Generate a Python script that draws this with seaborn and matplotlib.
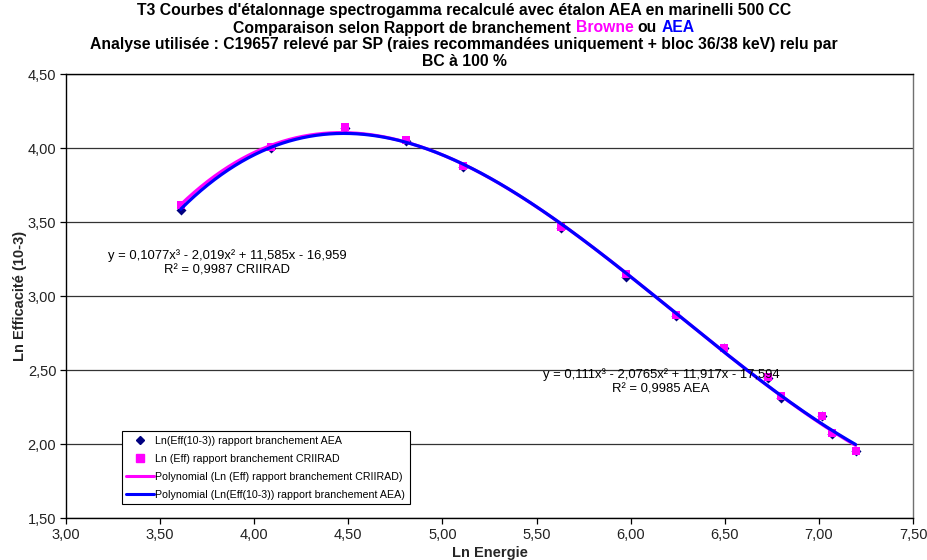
import numpy as np
import pandas as pd
import matplotlib
matplotlib.use("Agg")
import matplotlib.pyplot as plt
from matplotlib.ticker import FuncFormatter
from matplotlib.lines import Line2D
import seaborn as sns

# ---- data -------------------------------------------------------------
ln_energie = [3.61, 4.09, 4.48, 4.806, 5.11, 5.632, 5.975, 6.243, 6.497,
              6.729, 6.80, 7.018, 7.068, 7.195]
ln_eff_aea = [3.58, 4.00, 4.135, 4.05, 3.875, 3.462, 3.128, 2.865, 2.648,
              2.448, 2.312, 2.188, 2.068, 1.952]
ln_eff_criirad = [3.612, 4.01, 4.141, 4.055, 3.879, 3.467, 3.147, 2.869, 2.650,
                  2.451, 2.327, 2.192, 2.072, 1.955]

# cubic trendline coefficients (highest degree first)
coef_criirad = [0.1077, -2.019, 11.585, -16.959]
coef_aea = [0.111, -2.0765, 11.917, -17.594]

eq_criirad = "y = 0,1077x³ - 2,019x² + 11,585x - 16,959\nR² = 0,9987 CRIIRAD"
eq_aea = "y = 0,111x³ - 2,0765x² + 11,917x - 17,594\nR² = 0,9985 AEA"

x_ticks = [3.0, 3.5, 4.0, 4.5, 5.0, 5.5, 6.0, 6.5, 7.0, 7.5]
y_ticks = [1.5, 2.0, 2.5, 3.0, 3.5, 4.0, 4.5]

lab_aea = "Ln(Eff(10-3)) rapport branchement AEA"
lab_criirad = "Ln (Eff) rapport branchement CRIIRAD"
lab_poly_criirad = "Polynomial (Ln (Eff) rapport branchement CRIIRAD)"
lab_poly_aea = "Polynomial (Ln(Eff(10-3)) rapport branchement AEA)"

# ---- style ------------------------------------------------------------
sns.set_theme(style="white")
plt.rcParams["font.family"] = ["Liberation Sans", "DejaVu Sans"]
plt.rcParams["text.color"] = "black"

MAGENTA = "#FF00FF"
BLUE = "#0000FF"
NAVY = "#000080"

fig = plt.figure(figsize=(9.28, 5.6), dpi=100)
W, H = 928, 560
X0, X1, Y0, Y1 = 66, 913, 74, 518  # plot area in pixels
ax = fig.add_axes([X0 / W, 1 - Y1 / H, (X1 - X0) / W, (Y1 - Y0) / H])
ax.set_facecolor("white")

df = pd.DataFrame({"x": ln_energie, "aea": ln_eff_aea, "criirad": ln_eff_criirad})

sns.scatterplot(data=df, x="x", y="aea", marker="D", color=NAVY, s=26,
                edgecolor=NAVY, linewidth=0, ax=ax, zorder=3, legend=False)
sns.scatterplot(data=df, x="x", y="criirad", marker="s", color=MAGENTA, s=38,
                edgecolor=MAGENTA, linewidth=0, ax=ax, zorder=4, legend=False)

xs = np.linspace(min(ln_energie), max(ln_energie), 300)
curves = pd.DataFrame({"x": xs,
                       "criirad": np.polyval(coef_criirad, xs),
                       "aea": np.polyval(coef_aea, xs)})
sns.lineplot(data=curves, x="x", y="criirad", color=MAGENTA, lw=2.3,
             estimator=None, ax=ax, zorder=5)
sns.lineplot(data=curves, x="x", y="aea", color=BLUE, lw=2.3,
             estimator=None, ax=ax, zorder=6)

# ---- axes -------------------------------------------------------------
ax.set_xlim(x_ticks[0], x_ticks[-1])
ax.set_ylim(y_ticks[0], y_ticks[-1])
ax.set_xticks(x_ticks)
ax.set_yticks(y_ticks)
fmt = FuncFormatter(lambda v, p: f"{v:.2f}".replace(".", ","))
ax.xaxis.set_major_formatter(fmt)
ax.yaxis.set_major_formatter(fmt)
ax.tick_params(axis="both", which="major", direction="out", length=4,
               width=0.9, color="black", labelsize=10.5, labelcolor="#222222",
               pad=3, bottom=True, left=True)
ax.yaxis.grid(True, color="#333333", lw=0.9)
ax.xaxis.grid(False)
ax.set_axisbelow(True)

for side in ["left", "bottom", "top"]:
    ax.spines[side].set_color("black")
    ax.spines[side].set_linewidth(1.0)
ax.spines["right"].set_color("#707070")
ax.spines["right"].set_linewidth(1.0)

ax.set_xlabel("Ln Energie", fontsize=10.5, fontweight="bold")
ax.set_ylabel("Ln Efficacité (10-3)", fontsize=10.5, fontweight="bold")
ax.xaxis.set_label_coords((490 - X0) / (X1 - X0), -(546 - Y1) / (Y1 - Y0))
ax.yaxis.set_label_coords(-(X0 - 27) / (X1 - X0), 0.5)

# ---- trendline equations ---------------------------------------------
fig.text(227 / W, 1 - 263 / H, eq_criirad, ha="center", va="center",
         fontsize=9.4, linespacing=1.25, zorder=8)
fig.text(661 / W, 1 - 382 / H, eq_aea, ha="center", va="center",
         fontsize=9.4, linespacing=1.25, zorder=8)

# ---- legend -----------------------------------------------------------
handles = [
    Line2D([], [], ls="none", marker="D", color=NAVY, markersize=4.5),
    Line2D([], [], ls="none", marker="s", color=MAGENTA, markersize=6),
    Line2D([], [], color=MAGENTA, lw=2.2),
    Line2D([], [], color=BLUE, lw=2.2),
]
labels = [lab_aea, lab_criirad, lab_poly_criirad, lab_poly_aea]
leg = ax.legend(handles, labels, loc="lower left",
                bbox_to_anchor=((122 - X0) / (X1 - X0), (Y1 - 504) / (Y1 - Y0)),
                borderaxespad=0, fontsize=7.7, frameon=True, fancybox=False,
                framealpha=1, edgecolor="black", handlelength=2.6,
                handletextpad=0.1, labelspacing=0.74, borderpad=0.42)
leg.get_frame().set_linewidth(0.8)
leg.set_zorder(10)

# ---- title ------------------------------------------------------------
tfs = 11.3
fig.text(0.5, 1 - 11 / H, "T3 Courbes d'étalonnage spectrogamma recalculé avec étalon AEA en marinelli 500 CC",
         ha="center", va="center", fontsize=tfs, fontweight="bold")
fig.text(0.5, 1 - 45 / H, "Analyse utilisée : C19657 relevé par SP (raies recommandées uniquement + bloc 36/38 keV) relu par",
         ha="center", va="center", fontsize=tfs, fontweight="bold")
fig.text(0.5, 1 - 62 / H, "BC à 100 %", ha="center", va="center",
         fontsize=tfs, fontweight="bold")

# second line with coloured words
parts = [("Comparaison selon Rapport de branchement", "black"),
         ("Browne", MAGENTA), ("ou", "black"), ("AEA", BLUE)]
renderer = fig.canvas.get_renderer()
texts = [fig.text(0, 1 - 28 / H, s, ha="left", va="center", fontsize=tfs,
                  fontweight="bold", color=c) for s, c in parts]
probe_a = fig.text(0, 0, "ab", fontsize=tfs, fontweight="bold")
probe_b = fig.text(0, 0, "a b", fontsize=tfs, fontweight="bold")
space = (probe_b.get_window_extent(renderer).width
         - probe_a.get_window_extent(renderer).width)
probe_a.remove()
probe_b.remove()
widths = [t.get_window_extent(renderer).width for t in texts]
total = sum(widths) + space * (len(texts) - 1)
xpos = W / 2 - total / 2
for t, w in zip(texts, widths):
    t.set_x(xpos / W)
    xpos += w + space

fig.savefig("out.png", dpi=100, facecolor="white")
